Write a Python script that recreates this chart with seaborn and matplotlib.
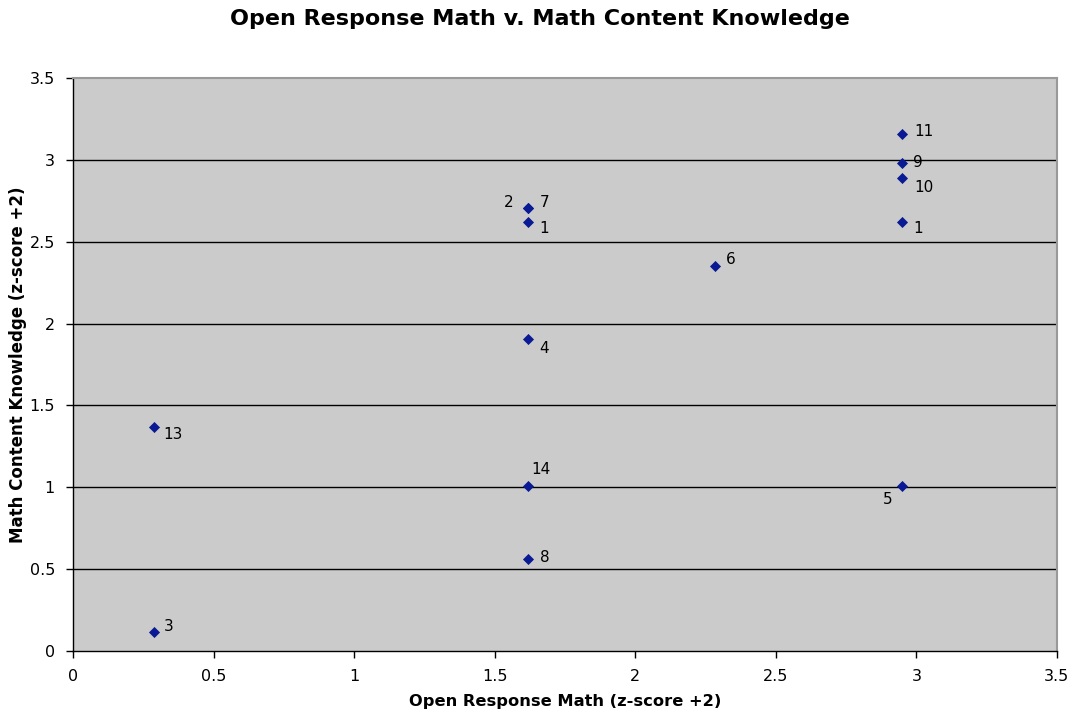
import matplotlib
matplotlib.use("Agg")
import matplotlib.pyplot as plt
import seaborn as sns
import pandas as pd

# Open response math vs. math content knowledge, both as z-score + 2
open_response = [0.29, 0.29, 1.62, 1.62, 1.62, 1.62, 1.62, 1.62, 2.285, 2.95, 2.95, 2.95, 2.95, 2.95]
content_knowledge = [0.115, 1.37, 2.705, 2.705, 2.62, 1.905, 1.005, 0.56, 2.35, 3.16, 2.98, 2.89, 2.62, 1.005]
point_labels = ["3", "13", "2", "7", "1", "4", "14", "8", "6", "11", "9", "10", "1", "5"]

# label placement relative to each marker, in pixels
label_offsets = [(14, 6), (19, -8), (-20, 6), (16, 6), (16, -6), (16, -9), (13, 17),
                 (16, 2), (15, 7), (22, 2), (16, 1), (22, -10), (16, -6), (-15, -13)]

x_ticks = [0, 0.5, 1, 1.5, 2, 2.5, 3, 3.5]
y_ticks = [0, 0.5, 1, 1.5, 2, 2.5, 3, 3.5]

df = pd.DataFrame({"x": open_response, "y": content_knowledge, "label": point_labels})

sns.set_style("white")
plt.rcParams["font.family"] = ["DejaVu Sans"]
plt.rcParams["text.color"] = "black"
plt.rcParams["axes.labelcolor"] = "black"
plt.rcParams["xtick.color"] = "black"
plt.rcParams["ytick.color"] = "black"

fig = plt.figure(figsize=(10.84, 7.12), dpi=100)
ax = fig.add_axes([0.0673, 0.0857, 0.9077, 0.8047])
ax.set_facecolor("#CBCBCB")

for yv in y_ticks[1:-1]:
    ax.axhline(yv, color="black", linewidth=1.0, zorder=1)

sns.scatterplot(data=df, x="x", y="y", marker="D", s=32, color="#0A1A94",
                edgecolor="#0A1A94", linewidth=0, ax=ax, zorder=3)

for xv, yv, lab, (dx, dy) in zip(df["x"], df["y"], df["label"], label_offsets):
    ax.annotate(lab, (xv, yv), xytext=(dx, dy), textcoords="offset pixels",
                ha="center", va="center", fontsize=11, color="black", zorder=4)

ax.set_xlim(0, 3.5)
ax.set_ylim(0, 3.5)
ax.set_xticks(x_ticks)
ax.set_yticks(y_ticks)
ax.set_xticklabels([f"{v:g}" for v in x_ticks])
ax.set_yticklabels([f"{v:g}" for v in y_ticks])
ax.tick_params(axis="both", direction="out", length=5, width=1, color="black",
               labelsize=11.5, pad=8, bottom=True, left=True)

for side in ["left", "bottom"]:
    ax.spines[side].set_color("black")
    ax.spines[side].set_linewidth(1.0)
for side in ["top", "right"]:
    ax.spines[side].set_color("#999999")
    ax.spines[side].set_linewidth(1.5)

ax.set_xlabel("Open Response Math (z-score +2)", fontsize=11.7, fontweight="bold", labelpad=7)
ax.set_ylabel("Math Content Knowledge (z-score +2)", fontsize=12, fontweight="bold",
              va="center")
ax.yaxis.set_label_coords(-0.056, 0.5)
fig.text(0.4977, 0.973, "Open Response Math v. Math Content Knowledge", fontsize=16,
         fontweight="bold", ha="center", va="center")

fig.savefig("out.png", dpi=100, facecolor="white")
